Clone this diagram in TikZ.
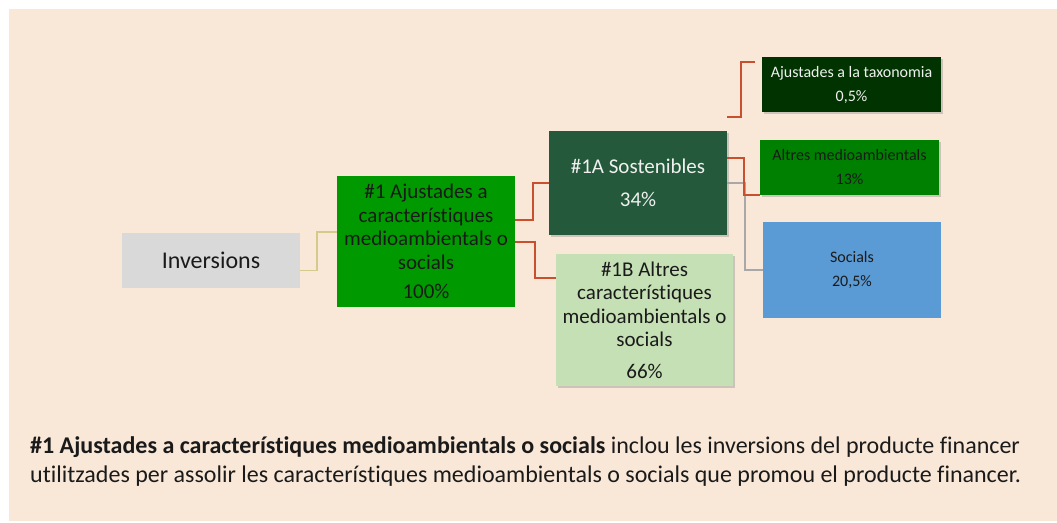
\documentclass[tikz,border=0pt]{standalone}
\usepackage{fontspec}
\setmainfont{Carlito}[Ligatures={NoCommon}]
\usetikzlibrary{shadows}
\definecolor{bg}{HTML}{F9E8D8}
\definecolor{invgray}{HTML}{D9D9D9}
\definecolor{gmain}{HTML}{009900}
\definecolor{gdark}{HTML}{245A3B}
\definecolor{glight}{HTML}{C5E0B4}
\definecolor{gtax}{HTML}{003300}
\definecolor{galt}{HTML}{008000}
\definecolor{bsoc}{HTML}{5B9BD5}
\definecolor{lred}{HTML}{C8502F}
\definecolor{lyel}{HTML}{D6C98C}
\definecolor{lgray}{HTML}{A8A8A8}
\definecolor{txtdark}{HTML}{1A1A1A}
\begin{document}
\begin{tikzpicture}[x=1pt,y=-1pt,
  box/.style={rectangle,inner sep=0pt,align=center,font=\fontsize{21}{23.5}\selectfont},
  sbox/.style={rectangle,inner sep=0pt,align=center,font=\fontsize{16}{24}\selectfont},
  shad/.style={drop shadow={opacity=0.35,shadow xshift=1.5pt,shadow yshift=-2pt}},
  con/.style={line width=1.6pt}]
\useasboundingbox (0,0) rectangle (1057,522);
\fill[white] (0,0) rectangle (1057,522);
\fill[bg] (9,9) rectangle (1057,521);

\node[box,fill=invgray,minimum width=178pt,minimum height=55pt,font=\fontsize{24}{26}\selectfont,text=txtdark] (inv) at (211,260.5) {Inversions};
\node[box,fill=gmain,minimum width=178pt,minimum height=131pt,text=txtdark] (c1) at (426,241.5)
  {\#1 Ajustades a\\caracter\'istiques\\medioambientals o\\socials\\[6pt]100\%};
\node[box,shad,fill=gdark,minimum width=178pt,minimum height=104pt,text=white!94!black] (c1a) at (638,183)
  {\#1A Sostenibles\\[10pt]34\%};
\node[box,shad,fill=glight,minimum width=177pt,minimum height=132pt,text=txtdark] (c1b) at (644.5,320)
  {\#1B Altres\\caracter\'istiques\\medioambientals o\\socials\\[8pt]66\%};
\node[sbox,shad,fill=gtax,minimum width=179pt,minimum height=55pt,text=white!94!black] (tax) at (851.5,84.5)
  {Ajustades a la taxonomia\\0,5\%};
\node[sbox,shad,fill=galt,minimum width=179pt,minimum height=55pt,text=txtdark] (alt) at (849.5,167.5)
  {Altres medioambientals\\13\%};
\node[sbox,fill=bsoc,minimum width=178pt,minimum height=96pt,text=txtdark] (soc) at (852,270)
  {Socials\\20,5\%};

\draw[con,lyel] ([yshift=-10pt]inv.east) -- ++(17,0) |- ([yshift=9.5pt]c1.west);
\draw[con,lred] ([yshift=21.5pt]c1.east) -- ++(18,0) |- (c1a.west);
\draw[con,lred] ([yshift=-0.5pt]c1.east) -- ++(20,0) |- ([yshift=42pt]c1b.west);
\draw[con,lgray] (c1a.east) -- ++(18,0) |- (soc.west);
\draw[con,lred] ([yshift=25pt]c1a.east) -- ++(17,0) |- ([yshift=-27.5pt]alt.west);
\coordinate (t0) at ([yshift=14pt]c1a.north east);
\coordinate (t1) at ([xshift=-7pt,yshift=22.5pt]tax.west);
\draw[con,lred] (t0) -- ++(14,0) |- (t1);

\node[anchor=base west,inner sep=0pt,align=left,font=\fontsize{24}{29}\selectfont,text=txtdark] (note) at (30,482)
  {\textbf{\#1 Ajustades a caracter\'istiques medioambientals o socials} inclou les inversions del producte financer\\
   utilitzades per assolir les caracter\'istiques medioambientals o socials que promou el producte financer.};
\end{tikzpicture}
\end{document}
